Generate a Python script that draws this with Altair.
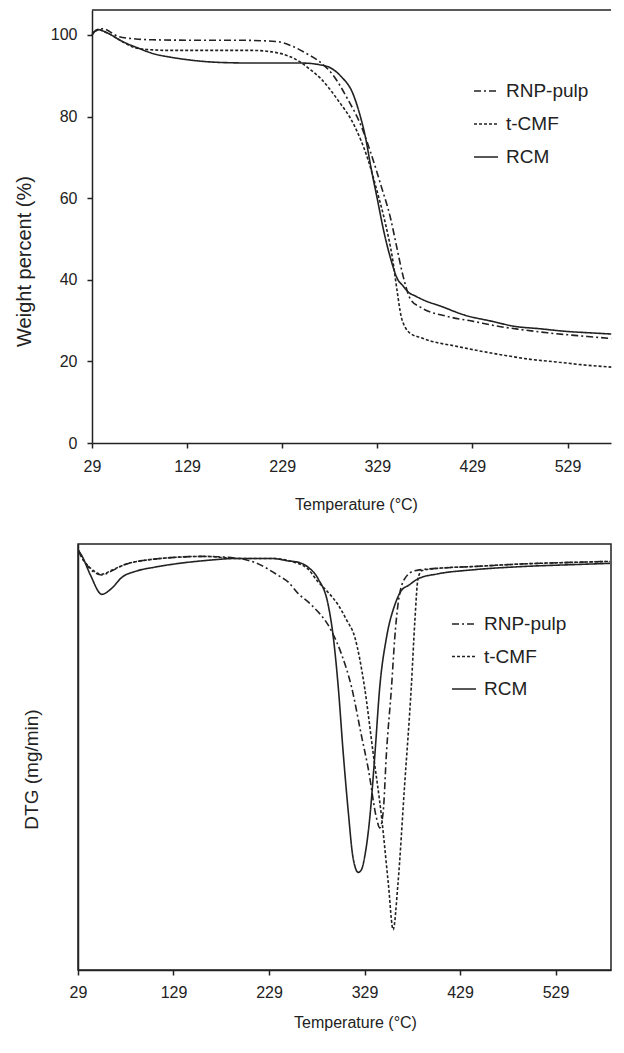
import altair as alt
import pandas as pd

SERIES = ["RNP-pulp", "t-CMF", "RCM"]
DASHES = [[7, 3, 2, 3], [3, 2], [1, 0]]
X_TICKS = [29, 129, 229, 329, 429, 529]
Y_TICKS = [0, 20, 40, 60, 80, 100]

# ---- TGA (weight percent) ----
rnp_tg_t = [29, 40, 57, 75, 93, 130, 180, 222, 240, 254, 268, 282, 298, 312, 322, 333, 343, 349, 356, 364, 375, 403, 430, 456, 480, 508, 550, 575]
rnp_tg_w = [100.5, 101.5, 99.6, 99.0, 98.8, 98.7, 98.7, 98.4, 97.2, 95.5, 93.5, 90.3, 84.2, 77.7, 71.2, 63.0, 55.0, 48.5, 41.0, 35.2, 33.2, 31.0, 29.8, 28.6, 27.8, 27.0, 26.1, 25.6]

cmf_tg_t = [29, 35, 45, 60, 75, 95, 110, 150, 198, 226, 247, 258, 270, 287, 305, 319, 329, 338, 345, 350, 354, 358, 363, 375, 385, 410, 438, 465, 490, 520, 543, 575]
cmf_tg_w = [100.0, 101.3, 100.5, 98.5, 96.8, 96.3, 96.2, 96.2, 96.2, 95.5, 93.5, 91.6, 89.2, 84.2, 77.7, 69.6, 61.5, 53.3, 45.2, 37.0, 31.1, 28.5, 27.0, 25.8, 25.0, 23.8, 22.5, 21.4, 20.5, 19.8, 19.2, 18.6]

rcm_tg_t = [29, 35, 45, 60, 75, 95, 110, 130, 146, 170, 200, 230, 250, 268, 280, 291, 303, 310, 317, 322, 329, 336, 343, 350, 356, 361, 370, 378, 396, 420, 450, 473, 500, 525, 560, 575]
rcm_tg_w = [100.0, 101.3, 100.5, 98.5, 97.0, 95.3, 94.6, 93.9, 93.5, 93.2, 93.1, 93.1, 93.1, 92.7, 91.9, 89.8, 85.8, 81.0, 74.4, 67.9, 59.8, 51.7, 45.2, 40.3, 38.5, 37.1, 35.9, 35.0, 33.5, 31.4, 29.8, 28.6, 28.0, 27.4, 26.9, 26.7]

# ---- DTG ----
rnp_dtg_t = [29, 33, 42, 54, 64, 75, 109, 161, 197, 214, 238.6, 249, 259.6, 273.5, 294.5, 305, 315.4, 325.9, 333, 341.6, 345, 348.6, 352, 357.3, 360.7, 364, 371, 381.7, 410, 441, 493, 546, 586]
rnp_dtg_v = [0.035, 0.015, -0.015, -0.030, -0.020, -0.006, 0.011, 0.018, 0.0127, 0.0025, -0.031, -0.048, -0.078, -0.1075, -0.175, -0.235, -0.319, -0.446, -0.531, -0.658, -0.683, -0.641, -0.489, -0.319, -0.192, -0.1075, -0.040, -0.019, -0.012, -0.0084, -0.0016, 0.0025, 0.005]

cmf_dtg_t = [29, 33, 42, 54, 64, 75, 109, 161, 197, 232, 256, 270, 280.5, 291, 301.5, 310, 319, 329, 338, 347, 354, 359, 364, 371, 378, 381.7, 385, 389, 410, 441, 493, 546, 586]
cmf_dtg_v = [0.035, 0.015, -0.012, -0.028, -0.018, -0.006, 0.011, 0.018, 0.0127, 0.0127, 0.0025, -0.015, -0.048, -0.075, -0.1075, -0.145, -0.192, -0.319, -0.489, -0.658, -0.828, -0.946, -0.828, -0.573, -0.319, -0.150, -0.040, -0.0186, -0.012, -0.0084, -0.0016, 0.0025, 0.005]

rcm_dtg_t = [29, 33, 42, 54, 64, 75, 90, 109, 135, 161, 197, 232, 250, 260, 270, 280.5, 291, 296, 301.5, 306.7, 312, 317, 322.5, 326, 329, 334.5, 340, 345, 352, 360.7, 368, 375, 385, 406, 441, 493, 546, 586]
rcm_dtg_v = [0.035, 0.02, -0.03, -0.080, -0.065, -0.036, -0.020, -0.010, 0.0, 0.007, 0.0127, 0.0127, 0.006, 0.0025, -0.010, -0.040, -0.1075, -0.184, -0.319, -0.489, -0.641, -0.760, -0.798, -0.790, -0.760, -0.658, -0.489, -0.319, -0.192, -0.1075, -0.069, -0.057, -0.040, -0.027, -0.017, -0.0084, -0.0034, 0.0]


def frame(pairs, ycol):
    parts = []
    for name, ts, vs in pairs:
        parts.append(pd.DataFrame({"T": ts, ycol: vs, "series": name, "order": range(len(ts))}))
    return pd.concat(parts, ignore_index=True)


tg = frame([("RNP-pulp", rnp_tg_t, rnp_tg_w), ("t-CMF", cmf_tg_t, cmf_tg_w), ("RCM", rcm_tg_t, rcm_tg_w)], "W")
dtg = frame([("RNP-pulp", rnp_dtg_t, rnp_dtg_v), ("t-CMF", cmf_dtg_t, cmf_dtg_v), ("RCM", rcm_dtg_t, rcm_dtg_v)], "D")

FONT = "Liberation Sans"
INK = "#222"
LBL = 16
W = 533          # full width from the bottom panel's y axis to the right edge
H_TOP = 433
H_BOT = 426
SHIFT = 14       # top panel's y axis sits this far right of the bottom one


def x_axis(label_pad, title_pad, title_x):
    return alt.Axis(values=X_TICKS, grid=False, tickSize=5, tickColor=INK, tickWidth=1.5,
                    domainColor=INK, domainWidth=1.5, labelFont=FONT, labelFontSize=LBL,
                    labelColor=INK, labelPadding=label_pad, title="Temperature (°C)",
                    titleFont=FONT, titleFontSize=16, titleFontWeight="normal", titleColor=INK,
                    titlePadding=title_pad, titleX=title_x, labelFlush=False)


def dash_enc(lx, ly, row_pad):
    return alt.StrokeDash(
        "series:N",
        scale=alt.Scale(domain=SERIES, range=DASHES),
        legend=alt.Legend(title=None, orient="none", legendX=lx, legendY=ly, symbolType="stroke",
                          symbolSize=576, symbolStrokeWidth=1.6, symbolStrokeColor=INK,
                          labelFont=FONT, labelFontSize=19, labelColor=INK, rowPadding=row_pad,
                          labelOffset=7, padding=0),
    )


one = alt.Data(values=[{"k": 0}])

# ---------- top panel (TGA) ----------
top_lines = alt.Chart(tg).mark_line(color=INK, strokeWidth=1.6, interpolate="monotone", clip=False).encode(
    x=alt.X("T:Q", scale=alt.Scale(domain=[29, 29 + (W - SHIFT) / 0.951], nice=False, zero=False,
                                   range=[SHIFT, W]),
            axis=x_axis(10, 22, 278)),
    y=alt.Y("W:Q", scale=alt.Scale(domain=[0, 106.1], nice=False),
            axis=alt.Axis(values=Y_TICKS, grid=False, tickSize=5, tickColor=INK, tickWidth=1.5,
                          domainColor=INK, domainWidth=1.5, labelFont=FONT, labelFontSize=LBL,
                          labelColor=INK, labelPadding=10, title="Weight percent (%)",
                          titleFont=FONT, titleFontSize=20, titleFontWeight="normal",
                          titleColor=INK, titlePadding=16, titleY=251, offset=-SHIFT)),
    strokeDash=dash_enc(395, 68, 10),
    order="order:Q",
)
top_border = alt.Chart(one).mark_rule(color=INK, strokeWidth=1.5).encode(
    x=alt.value(SHIFT), x2=alt.value(W), y=alt.value(0))
top = alt.layer(top_lines, top_border).properties(
    width=W, height=H_TOP, view=alt.ViewBackground(stroke="transparent"))

# ---------- bottom panel (DTG) ----------
bottom = alt.Chart(dtg).mark_line(color=INK, strokeWidth=1.6, interpolate="monotone", clip=True).encode(
    x=alt.X("T:Q", scale=alt.Scale(domain=[29, 29 + W / 0.955], nice=False, zero=False),
            axis=x_axis(9, 14, 277)),
    y=alt.Y("D:Q", scale=alt.Scale(domain=[-1.05, 0.05], nice=False, zero=False),
            axis=alt.Axis(labels=False, ticks=False, tickSize=0, labelPadding=0, grid=False,
                          domainColor=INK, domainWidth=1.5,
                          title="DTG (mg/min)", titleFont=FONT, titleFontSize=19,
                          titleFontWeight="normal", titleColor=INK, titlePadding=37, titleY=225)),
    strokeDash=dash_enc(373, 67, 9.5),
    order="order:Q",
).properties(width=W, height=H_BOT, view=alt.ViewBackground(stroke=INK, strokeWidth=1.5))

chart = alt.vconcat(top, bottom, spacing=30).resolve_scale(
    strokeDash="independent").resolve_legend(strokeDash="independent").properties(
    padding={"left": 5, "top": 0, "right": 0, "bottom": 0}).configure(background="white")

chart.save("out.html", embed_options={"renderer": "svg", "actions": False})
